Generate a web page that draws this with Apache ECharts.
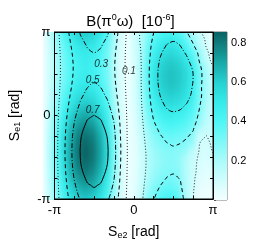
<!DOCTYPE html>
<html><head><meta charset="utf-8">
<script src="https://cdn.jsdelivr.net/npm/echarts@6/dist/echarts.min.js"></script>
<style>
html,body{margin:0;padding:0;background:#fff}
#wrap{position:relative;width:261px;height:245px;background:#fff;overflow:hidden}
#clip{position:absolute;left:43px;top:32px;width:170px;height:168px;overflow:hidden}
#heat{position:absolute;left:-43px;top:-32px;width:261px;height:245px;filter:blur(2.4px)}
#c{position:absolute;left:0;top:0;width:261px;height:245px}
</style>
</head><body><div id="wrap"><div id="clip"><div id="heat"></div></div><div id="c"></div></div>
<script>
const PI = Math.PI;
// grid of phases in degrees (Se2 columns, Se1 rows from +180 to -180)
const se2Deg = [-180,-165,-150,-135,-120,-105,-90,-75,-60,-45,-30,-15,0,15,30,45,60,75,90,105,120,135,150,165,180];
const se1Deg = [180,165,150,135,120,105,90,75,60,45,30,15,0,-15,-30,-45,-60,-75,-90,-105,-120,-135,-150,-165,-180];
// B(pi0 omega) [1e-6], row = Se1 value, column = Se2 value
const B = [
[.020,.138,.280,.415,.523,.593,.618,.593,.523,.415,.228,.079,.020,.110,.180,.295,.371,.420,.437,.402,.307,.190,.110,.060,.020],
[.020,.129,.260,.384,.484,.549,.572,.549,.484,.384,.212,.075,.020,.110,.190,.326,.410,.465,.484,.455,.371,.260,.150,.080,.020],
[.020,.121,.242,.357,.450,.510,.531,.510,.450,.357,.198,.071,.020,.100,.205,.357,.449,.509,.530,.505,.432,.320,.188,.090,.020],
[.020,.114,.228,.336,.423,.479,.499,.479,.423,.336,.186,.067,.020,.090,.211,.383,.483,.547,.570,.547,.483,.383,.259,.128,.040],
[.020,.110,.220,.323,.406,.460,.479,.460,.406,.323,.180,.065,.020,.085,.223,.405,.510,.579,.603,.583,.526,.436,.278,.145,.065],
[.020,.109,.216,.317,.398,.452,.470,.452,.398,.317,.177,.065,.020,.080,.231,.420,.530,.601,.626,.608,.559,.479,.323,.188,.103],
[.020,.110,.218,.320,.403,.456,.475,.456,.403,.320,.178,.065,.020,.081,.234,.427,.539,.612,.637,.620,.573,.499,.344,.208,.126],
[.020,.113,.225,.332,.417,.473,.492,.473,.417,.332,.184,.067,.020,.081,.234,.427,.538,.611,.636,.619,.573,.498,.343,.208,.126],
[.020,.119,.238,.350,.441,.500,.520,.500,.441,.350,.194,.070,.020,.080,.230,.417,.526,.597,.622,.606,.560,.487,.335,.203,.123],
[.020,.126,.254,.376,.473,.537,.559,.537,.473,.376,.207,.073,.020,.077,.221,.401,.505,.573,.597,.583,.542,.476,.335,.210,.136],
[.020,.135,.274,.405,.511,.580,.604,.580,.511,.405,.223,.078,.020,.074,.209,.378,.477,.541,.563,.550,.511,.450,.317,.199,.129],
[.020,.145,.295,.437,.552,.626,.652,.626,.552,.437,.240,.083,.020,.070,.194,.351,.441,.500,.521,.509,.473,.416,.294,.185,.121],
[.020,.154,.317,.470,.594,.674,.702,.674,.594,.470,.258,.087,.020,.065,.178,.320,.403,.456,.475,.464,.431,.380,.268,.171,.115],
[.020,.163,.337,.500,.632,.718,.748,.718,.632,.500,.274,.092,.020,.060,.162,.289,.363,.411,.428,.418,.389,.343,.243,.155,.115],
[.020,.171,.355,.528,.667,.757,.789,.757,.667,.528,.288,.096,.020,.056,.146,.259,.324,.367,.382,.373,.347,.306,.170,.125,.120],
[.020,.178,.368,.549,.694,.788,.821,.788,.694,.549,.298,.099,.020,.052,.132,.232,.290,.328,.341,.333,.310,.274,.115,.098,.118],
[.020,.182,.377,.562,.710,.807,.841,.807,.710,.562,.306,.101,.020,.049,.121,.211,.263,.297,.309,.301,.279,.244,.100,.085,.112],
[.020,.184,.381,.568,.718,.816,.850,.816,.718,.568,.309,.102,.020,.046,.113,.196,.244,.275,.286,.278,.256,.160,.092,.080,.104],
[.020,.183,.379,.565,.714,.811,.845,.811,.714,.565,.307,.102,.020,.045,.109,.188,.234,.265,.275,.266,.200,.130,.085,.075,.094],
[.020,.179,.371,.553,.700,.795,.828,.795,.700,.553,.301,.100,.020,.045,.109,.189,.235,.266,.276,.266,.190,.120,.080,.060,.070],
[.020,.174,.359,.535,.676,.768,.800,.768,.676,.535,.291,.097,.020,.047,.114,.198,.247,.279,.290,.277,.190,.120,.075,.050,.050],
[.020,.166,.342,.509,.643,.731,.761,.731,.643,.509,.278,.093,.020,.049,.122,.215,.268,.303,.315,.296,.190,.115,.060,.040,.040],
[.020,.157,.323,.479,.605,.687,.716,.687,.605,.479,.262,.089,.020,.053,.134,.237,.297,.336,.349,.322,.200,.110,.050,.030,.030],
[.020,.148,.302,.448,.565,.641,.668,.641,.565,.448,.246,.084,.020,.056,.149,.265,.332,.376,.391,.355,.210,.105,.030,.020,.020],
[.020,.138,.280,.415,.523,.593,.618,.593,.523,.415,.228,.079,.020,.061,.165,.295,.371,.420,.437,.391,.220,.102,.020,.020,.020]
];
const contourLevels = [0.1, 0.3, 0.5, 0.7];
const contourLabels = [['0.3', -1.29, 1.94], ['0.5', -1.63, 1.31], ['0.7', -1.63, 0.19], ['0.1', -0.19, 1.68]];
const axisTickVals = [-PI, 0, PI];
const axisTickText = ['-\u03c0', '0', '\u03c0'];
const cbMin = 0, cbMax = 0.855;
const cbTickVals = [0.2, 0.4, 0.6, 0.8];

// colour map (value, colour)
const cmap = [[0, '#f4ffff'], [0.2, '#aafbfb'], [0.4, '#4ef6f6'], [0.5, '#36eaea'], [0.6, '#26d0d0'], [0.7, '#18a8a8'], [0.855, '#0b6262']];
function hex2rgb(h){ return [parseInt(h.substr(1,2),16), parseInt(h.substr(3,2),16), parseInt(h.substr(5,2),16)]; }
function cmapAt(v){
  for (let k = 0; k < cmap.length - 1; k++) {
    const a = cmap[k], b = cmap[k+1];
    if (v <= b[0] || k === cmap.length - 2) {
      const t = Math.max(0, Math.min(1, (v - a[0]) / (b[0] - a[0])));
      const ca = hex2rgb(a[1]), cb = hex2rgb(b[1]);
      return 'rgb(' + ca.map((c, n) => Math.round(c + t * (cb[n] - c))).join(',') + ')';
    }
  }
}
const vmColors = [];
for (let k = 0; k <= 80; k++) vmColors.push(cmapAt(cbMin + (cbMax - cbMin) * k / 80));

const xs = se2Deg.map(d => d * PI / 180);
const ys = se1Deg.map(d => d * PI / 180);
const cells = [];
for (let i = 0; i < ys.length; i++) for (let j = 0; j < xs.length; j++) cells.push([xs[j], ys[i], B[i][j]]);
const hx = (xs[1] - xs[0]) / 2, hy = Math.abs(ys[1] - ys[0]) / 2;

function traceContours(level){
  const pts = {}; const segs = [];
  const above = v => v >= level;
  for (let i = 0; i < ys.length - 1; i++) for (let j = 0; j < xs.length - 1; j++) {
    const c = [B[i][j], B[i][j+1], B[i+1][j+1], B[i+1][j]];
    const P = [[xs[j], ys[i]], [xs[j+1], ys[i]], [xs[j+1], ys[i+1]], [xs[j], ys[i+1]]];
    const ek = ['h'+i+'_'+j, 'v'+i+'_'+(j+1), 'h'+(i+1)+'_'+j, 'v'+i+'_'+j];
    const mk = e => {
      const k = ek[e];
      if (!pts[k]) {
        const a = c[e], b = c[(e+1)%4], p = P[e], q = P[(e+1)%4];
        const t = (level - a) / (b - a);
        pts[k] = [p[0] + t*(q[0]-p[0]), p[1] + t*(q[1]-p[1])];
      }
      return k;
    };
    const cross = [];
    for (let e = 0; e < 4; e++) if (above(c[e]) !== above(c[(e+1)%4])) cross.push(e);
    if (cross.length === 2) segs.push([mk(cross[0]), mk(cross[1])]);
    else if (cross.length === 4) {
      const center = (c[0]+c[1]+c[2]+c[3]) / 4;
      if (above(center) === above(c[0])) { segs.push([mk(0), mk(1)]); segs.push([mk(2), mk(3)]); }
      else { segs.push([mk(3), mk(0)]); segs.push([mk(1), mk(2)]); }
    }
  }
  const adj = {};
  segs.forEach((s, n) => { (adj[s[0]] = adj[s[0]] || []).push(n); (adj[s[1]] = adj[s[1]] || []).push(n); });
  const used = new Array(segs.length).fill(false); const lines = [];
  for (let s0 = 0; s0 < segs.length; s0++) {
    if (used[s0]) continue; used[s0] = true;
    const chain = [segs[s0][0], segs[s0][1]];
    for (let dir = 0; dir < 2; dir++) {
      while (true) {
        const end = chain[chain.length-1];
        const nxt = (adj[end] || []).find(k => !used[k]);
        if (nxt === undefined) break;
        used[nxt] = true;
        const s = segs[nxt]; chain.push(s[0] === end ? s[1] : s[0]);
      }
      chain.reverse();
    }
    lines.push(chain.map(k => pts[k]));
  }
  return lines;
}
const levelStyle = {
  0.1: {type: [1, 2], color: '#222'},
  0.3: {type: [4, 3], color: '#000'},
  0.5: {type: [5, 2, 1, 2], color: '#000'},
  0.7: {type: 'solid', color: '#000'}
};
const font = 'Liberation Sans';

// ---- heat layer (soft-rendered cells) ----
const heat = echarts.init(document.getElementById('heat'), null, {renderer: 'canvas'});
heat.setOption({
  animation: false,
  grid: {left: 43, top: 32, width: 170, height: 168, show: false},
  xAxis: {type: 'value', min: -PI, max: PI, show: false},
  yAxis: {type: 'value', min: -PI, max: PI, show: false},
  visualMap: {type: 'continuous', show: false, min: cbMin, max: cbMax, dimension: 2, seriesIndex: 0,
    inRange: {color: vmColors}},
  series: [{
    type: 'custom', name: 'B', clip: false, silent: true,
    data: cells, encode: {x: 0, y: 1},
    renderItem: function(params, api){
      const x = api.value(0), y = api.value(1);
      const p0 = api.coord([x - hx, y + hy]);
      const p1 = api.coord([x + hx, y - hy]);
      const ext = 10;
      let x0 = p0[0], y0 = p0[1], x1 = p1[0], y1 = p1[1];
      if (x <= -PI + 1e-9) x0 -= ext;
      if (x >= PI - 1e-9) x1 += ext;
      if (y >= PI - 1e-9) y0 -= ext;
      if (y <= -PI + 1e-9) y1 += ext;
      return {type: 'rect', shape: {x: x0, y: y0, width: x1 - x0 + 0.6, height: y1 - y0 + 0.6},
        style: {fill: api.visual('color')}};
    }
  }]
});

// ---- main layer: axes, contours, labels, colour bar ----
const series = [];
contourLevels.forEach(lv => {
  traceContours(lv).forEach(line => {
    series.push({type: 'line', xAxisIndex: 0, yAxisIndex: 0, data: line, showSymbol: false, symbol: 'none',
      smooth: 0.35, silent: true, clip: true, z: 5,
      lineStyle: {width: 1, color: levelStyle[lv].color, type: levelStyle[lv].type}});
  });
});
series.push({
  type: 'scatter', xAxisIndex: 0, yAxisIndex: 0, symbolSize: 0, silent: true, z: 6,
  data: contourLabels.map(l => ({value: [l[1], l[2]], name: l[0]})),
  label: {show: true, position: 'inside', formatter: p => p.name, fontSize: 10, fontStyle: 'italic',
    fontFamily: font, color: '#000'}
});
series.push({
  type: 'custom', xAxisIndex: 2, yAxisIndex: 2, silent: true,
  data: [[0, cbMin, cbMax]],
  renderItem: function(params, api){
    const top = api.coord([0, api.value(2)]), bot = api.coord([1, api.value(1)]);
    const stops = cmap.map(s => ({offset: (cbMax - s[0]) / (cbMax - cbMin), color: s[1]})).reverse();
    return {type: 'rect', shape: {x: top[0], y: top[1], width: bot[0]-top[0], height: bot[1]-top[1]},
      style: {fill: new echarts.graphic.LinearGradient(0, 0, 0, 1, stops)}};
  }
});

const tickFmt = v => { for (let k = 0; k < axisTickVals.length; k++) if (Math.abs(v - axisTickVals[k]) < 1e-6) return axisTickText[k]; return ''; };
const baseAxis = {type: 'value', min: -PI, max: PI, interval: PI/4,
  axisLine: {show: true, onZero: false, lineStyle: {color: '#000', width: 1}},
  axisTick: {show: true, inside: true, length: 3, lineStyle: {color: '#000'}},
  splitLine: {show: false}};
const chart = echarts.init(document.getElementById('c'), null, {renderer: 'canvas'});
chart.setOption({
  animation: false,
  backgroundColor: 'transparent',
  title: {text: '{t|B(\u03c0}{s|0}{t|\u03c9)  [10}{s|-6}{t|]}', left: 'center', top: 8,
    textStyle: {rich: {t: {fontSize: 15, fontFamily: font, fontWeight: 'normal', color: '#000', lineHeight: 18},
      s: {fontSize: 9, fontFamily: font, fontWeight: 'normal', color: '#000', verticalAlign: 'top', lineHeight: 18}}}},
  grid: [{left: 43, top: 32, width: 170, height: 168, show: true, borderColor: '#000', borderWidth: 1, backgroundColor: 'transparent'},
         {left: 214, top: 32, width: 13, height: 168, show: true, borderColor: '#777', borderWidth: 1}],
  xAxis: [
    Object.assign({}, baseAxis, {gridIndex: 0, position: 'bottom',
      axisLabel: {formatter: tickFmt, fontSize: 13, fontFamily: font, color: '#000', margin: 5, showMinLabel: true, showMaxLabel: true},
      name: '{t|S}{s|e2}{t| [rad]}', nameLocation: 'middle', nameGap: 26,
      nameTextStyle: {rich: {t: {fontSize: 14, fontFamily: font, color: '#000'}, s: {fontSize: 9, fontFamily: font, color: '#000', verticalAlign: 'bottom', padding: [6,0,0,0]}}}}),
    Object.assign({}, baseAxis, {gridIndex: 0, position: 'top', axisLabel: {show: false}}),
    {type: 'value', gridIndex: 1, min: 0, max: 1, show: false}
  ],
  yAxis: [
    Object.assign({}, baseAxis, {gridIndex: 0, position: 'left',
      axisLabel: {formatter: tickFmt, fontSize: 13, fontFamily: font, color: '#000', margin: 4, showMinLabel: true, showMaxLabel: true},
      name: '{t|S}{s|e1}{t| [rad]}', nameLocation: 'middle', nameGap: 32, nameRotate: 90,
      nameTextStyle: {rich: {t: {fontSize: 14, fontFamily: font, color: '#000'}, s: {fontSize: 9, fontFamily: font, color: '#000', verticalAlign: 'bottom', padding: [6,0,0,0]}}}}),
    Object.assign({}, baseAxis, {gridIndex: 0, position: 'right', axisLabel: {show: false}}),
    {type: 'value', gridIndex: 1, min: cbMin, max: cbMax, interval: 0.2, position: 'right',
      axisLine: {show: false}, splitLine: {show: false},
      axisTick: {show: true, inside: false, length: 2, lineStyle: {color: '#555'}},
      axisLabel: {fontSize: 11, fontFamily: font, color: '#000', margin: 4,
        formatter: v => cbTickVals.some(t => Math.abs(t - v) < 1e-6) ? v.toFixed(1) : ''}}
  ],
  series: series
});
</script>
</body></html>
